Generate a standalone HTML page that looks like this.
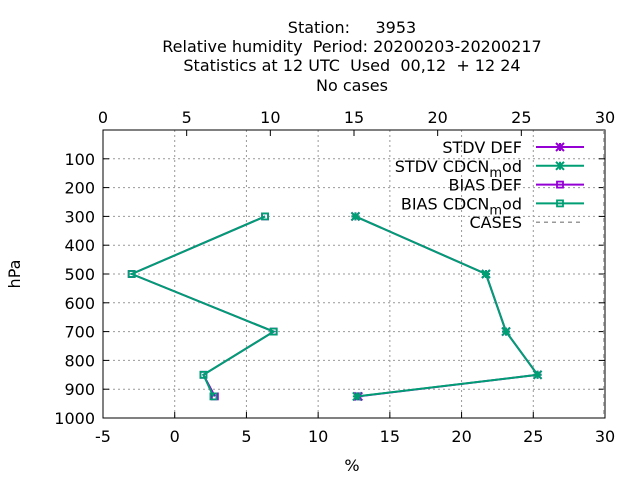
<!DOCTYPE html>
<html><head><meta charset="utf-8"><style>body{margin:0;background:#fff}svg text{font-family:"DejaVu Sans","Liberation Sans",sans-serif;font-size:16px;fill:#000;white-space:pre}</style></head>
<body>
<svg id="c" width="640" height="480" xmlns="http://www.w3.org/2000/svg">
<g>
<text x="352" y="33" text-anchor="middle" xml:space="preserve">Station:     3953</text>
<text x="352" y="52" text-anchor="middle" xml:space="preserve">Relative humidity  Period: 20200203-20200217</text>
<text x="352" y="71" text-anchor="middle" xml:space="preserve">Statistics at 12 UTC  Used  00,12  + 12 24</text>
<text x="352" y="91" text-anchor="middle">No cases</text>
</g>
<g id="grid"></g><g id="axes"></g><g id="series"></g><g id="legend"></g>
<text x="352" y="471" text-anchor="middle">%</text>
<text x="20" y="274" text-anchor="middle" transform="rotate(-90 20 274)">hPa</text>
</svg>
<script>
const levels=[300,500,700,850,925];
const stdvDef=[12.6,21.7,23.1,25.3,12.8];
const stdvMod=[12.6,21.7,23.1,25.3,12.7];
const biasDef=[6.3,-3.0,6.9,2.0,2.8];
const biasMod=[6.3,-3.0,6.9,2.0,2.7];
const xTicks=[-5,0,5,10,15,20,25,30];
const x2Ticks=[0,5,10,15,20,25,30];
const yTicks=[100,200,300,400,500,600,700,800,900,1000];
const L=103,R=605,T=130,B=418;
const sx=v=>L+(v+5)/35*(R-L), sx2=v=>L+v/30*(R-L), sy=p=>T+p/1000*(B-T);
const NS="http://www.w3.org/2000/svg";
function mk(par,tag,at){const e=document.createElementNS(NS,tag);for(const k in at)e.setAttribute(k,at[k]);document.getElementById(par).appendChild(e);return e;}
xTicks.forEach(v=>{const x=sx(v);
 if(v>-5&&v<30){const g=mk('grid','line',{x1:x,x2:x,y1:T,y2:B,stroke:'#999','stroke-dasharray':'2,3','stroke-width':1});}
 mk('axes','line',{x1:x,x2:x,y1:B,y2:B-6,stroke:'#000'});
 const t=mk('axes','text',{x:x,y:B+24,'text-anchor':'middle'});t.textContent=v;
 });
x2Ticks.forEach(v=>{const x=sx2(v);
 mk('axes','line',{x1:x,x2:x,y1:T,y2:T+6,stroke:'#000'});
 const t=mk('axes','text',{x:x,y:T-7,'text-anchor':'middle'});t.textContent=v;
 });
yTicks.forEach(p=>{const y=sy(p);
 if(p<1000){const g=mk('grid','line',{x1:L,x2:R,y1:y,y2:y,stroke:'#999','stroke-dasharray':'2,3'});}
 mk('axes','line',{x1:L,x2:L+6,y1:y,y2:y,stroke:'#000'});mk('axes','line',{x1:R,x2:R-6,y1:y,y2:y,stroke:'#000'});
 const t=mk('axes','text',{x:L-8,y:y+6,'text-anchor':'end'});t.textContent=p;
 });
const fr=mk('axes','rect',{x:L,y:T,width:R-L,height:B-T,fill:'none',stroke:'#000'});

const cs=mk('series','line',{x1:R-1,x2:R-1,y1:T,y2:B,stroke:'#999','stroke-dasharray':'4,4','stroke-width':1.5});

function series(vals,col,mark,name){
 const pts=vals.map((v,i)=>[sx(v),sy(levels[i])]);
 const pl=mk('series','polyline',{points:pts.map(p=>p.join(',')).join(' '),fill:'none',stroke:col,'stroke-width':2});
 
 pts.forEach(p=>drawMark(p[0],p[1],col,mark));}
function drawMark(x,y,col,mark){
 if(mark==='x'){mk('series','path',{d:`M${x-4},${y-4}L${x+4},${y+4}M${x-4},${y+4}L${x+4},${y-4}M${x-4},${y}H${x+4}M${x},${y-4}V${y+4}`,stroke:col,'stroke-width':2});}
 else mk('series','rect',{x:x-3,y:y-3,width:6,height:6,fill:'none',stroke:col,'stroke-width':1.8});}
series(stdvDef,'#9400d3','x','stdv-def-line');
series(stdvMod,'#009e73','x','stdv-cdcn-line');
series(biasDef,'#9400d3','s','bias-def-line');
series(biasMod,'#009e73','s','bias-cdcn-line');
const leg=[['STDV DEF','#9400d3','x'],['STDV CDCN','#009e73','x'],['BIAS DEF','#9400d3','s'],['BIAS CDCN','#009e73','s'],['CASES','#999','d']];
leg.forEach((l,i)=>{const y=147+i*18.8;
 const t=mk('legend','text',{x:522,y:y+6,'text-anchor':'end'});
 if(l[0].indexOf('CDCN')>=0){t.innerHTML='<tspan>'+l[0]+'</tspan><tspan dy="5" font-size="13">m</tspan><tspan dy="-5">od</tspan>';}else t.textContent=l[0];
 
 if(l[2]==='d')mk('legend','line',{x1:536,x2:584,y1:y,y2:y,stroke:'#999','stroke-dasharray':'4,4','stroke-width':1.5});
 else{mk('legend','line',{x1:536,x2:584,y1:y,y2:y,stroke:l[1],'stroke-width':2});
  if(l[2]==='x'){const x=560;mk('legend','path',{d:`M${x-4},${y-4}L${x+4},${y+4}M${x-4},${y+4}L${x+4},${y-4}M${x},${y-4}V${y+4}`,stroke:l[1],'stroke-width':2});}
  else mk('legend','rect',{x:557,y:y-3,width:6,height:6,fill:'none',stroke:l[1],'stroke-width':1.8});}});
</script>
</body></html>
